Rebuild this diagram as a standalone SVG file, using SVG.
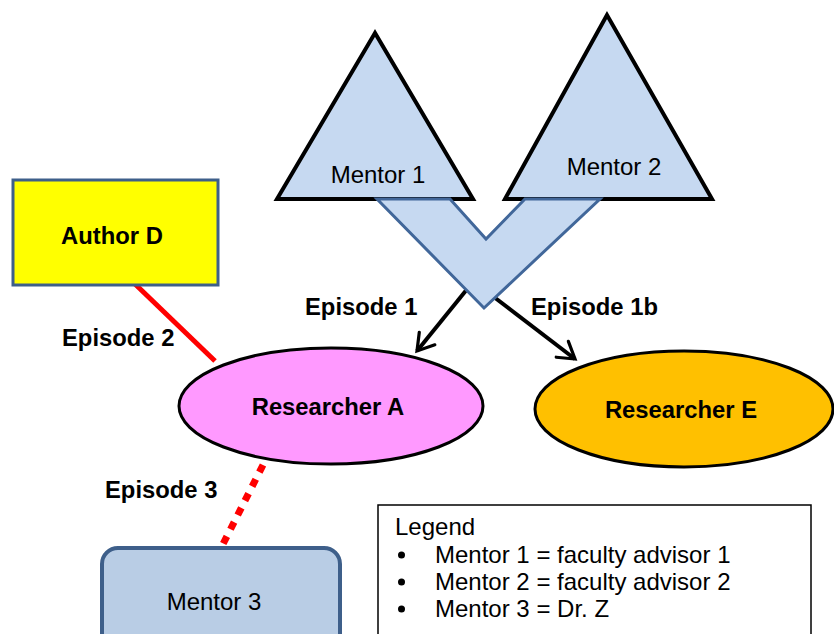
<svg xmlns="http://www.w3.org/2000/svg" width="834" height="634" viewBox="0 0 834 634">
<defs>
<style>
.b{font-family:"Liberation Sans",Arial,sans-serif;font-weight:bold;font-size:23.8px;fill:#000}
.r{font-family:"Liberation Sans",Arial,sans-serif;font-size:24px;fill:#000}
.tri{fill:#C6D9F1;stroke:#000;stroke-width:4;stroke-linejoin:miter}
.arr{stroke:#000;stroke-width:4;fill:none;marker-end:url(#ah)}
</style>
<marker id="ah" viewBox="0 0 12 12" refX="10" refY="6" markerWidth="6" markerHeight="6" orient="auto" markerUnits="strokeWidth">
<path d="M2,1 L10,6 L2,11" fill="none" stroke="#000" stroke-width="1.6" stroke-linecap="round" stroke-linejoin="miter"/>
</marker>
</defs>
<rect width="834" height="634" fill="#fff"/>
<g id="connectors">
<line x1="135" y1="284" x2="215" y2="361" stroke="#FF0000" stroke-width="5"/>
<line x1="263" y1="465" x2="221" y2="548" stroke="#FF0000" stroke-width="7" stroke-dasharray="8,8"/>
<line class="arr" x1="468" y1="288" x2="417" y2="351"/>
<line class="arr" x1="490" y1="294" x2="575" y2="359"/>
</g>
<g id="mentor1">
<polygon class="tri" points="375,33 277,199 473,199"/>
<text class="r" x="378" y="183" text-anchor="middle">Mentor 1</text>
</g>
<g id="mentor2">
<polygon class="tri" points="607,15 505,199 712,199"/>
<text class="r" x="614" y="175" text-anchor="middle">Mentor 2</text>
</g>
<g id="chevron">
<polygon points="377,199 450,199 486,239 525,199 600,199 484,308" fill="#C6D9F1" stroke="#41679A" stroke-width="3" stroke-linejoin="miter"/>
</g>
<g id="authorD">
<rect x="13" y="180" width="205" height="105" fill="#FFFF00" stroke="#3E5F8A" stroke-width="3"/>
<text class="b" x="112" y="244" text-anchor="middle">Author D</text>
</g>
<g id="researcherA">
<ellipse cx="331" cy="406" rx="152" ry="58" fill="#FF99FF" stroke="#000" stroke-width="3"/>
<text class="b" x="328" y="415" text-anchor="middle">Researcher A</text>
</g>
<g id="researcherE">
<ellipse cx="684" cy="409" rx="149" ry="58" fill="#FFC000" stroke="#000" stroke-width="3"/>
<text class="b" x="681" y="418" text-anchor="middle">Researcher E</text>
</g>
<g id="mentor3">
<rect x="102" y="548" width="238" height="110" rx="16" ry="16" fill="#B9CDE5" stroke="#3E5F8A" stroke-width="4"/>
<text class="r" x="214" y="610" text-anchor="middle">Mentor 3</text>
</g>
<g id="labels">
<text class="b" x="305" y="315">Episode 1</text>
<text class="b" x="531" y="315">Episode 1b</text>
<text class="b" x="62" y="346">Episode 2</text>
<text class="b" x="105" y="498">Episode 3</text>
</g>
<g id="legend">
<rect x="378" y="505" width="433" height="140" fill="#fff" stroke="#000" stroke-width="1.5"/>
<text class="r" x="395" y="535">Legend</text>
<circle cx="401.5" cy="555" r="3.5"/>
<circle cx="401.5" cy="582" r="3.5"/>
<circle cx="401.5" cy="609" r="3.5"/>
<text class="r" x="435" y="563">Mentor 1 = faculty advisor 1</text>
<text class="r" x="435" y="590">Mentor 2 = faculty advisor 2</text>
<text class="r" x="435" y="617">Mentor 3 = Dr. Z</text>
</g>
</svg>
